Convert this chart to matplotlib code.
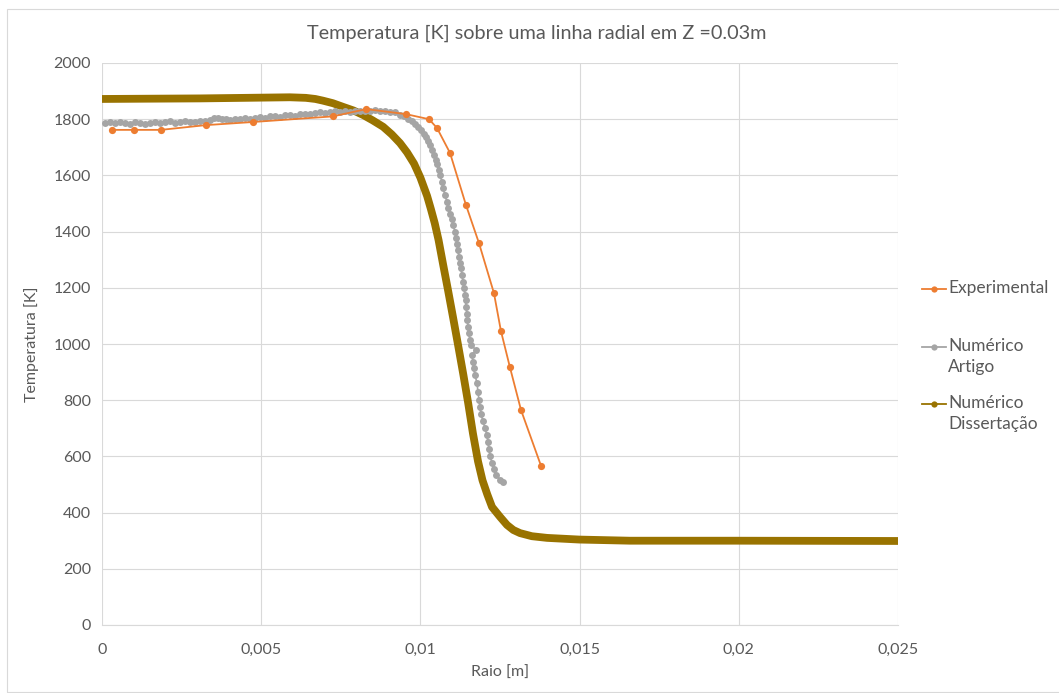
import matplotlib
matplotlib.use("Agg")
import matplotlib.pyplot as plt
from matplotlib.lines import Line2D
from matplotlib.patches import Rectangle
import numpy as np

plt.rcParams['font.family'] = ['Lato', 'DejaVu Sans']

# Experimental measurements: radius [mm], temperature [K]
exp_r_mm = [0.31, 1.00, 1.85, 3.27, 4.74, 7.25, 8.30, 9.55, 10.27, 10.52, 10.93,
            11.43, 11.84, 12.31, 12.53, 12.81, 13.16, 13.79]
exp_T = [1762, 1762, 1762, 1779, 1790, 1810, 1836, 1818, 1800, 1769, 1680,
         1495, 1359, 1181, 1046, 918, 765, 566]

# Numerical results from the reference article: radius [mm], temperature [K]
art_r_mm = [0.094, 0.251, 0.408, 0.565, 0.722, 0.879, 1.036, 1.193, 1.350, 1.508,
            1.665, 1.822, 1.979, 2.136, 2.293, 2.450, 2.607, 2.764, 2.921, 3.078,
            3.235, 3.392, 3.518, 3.643, 3.769, 3.894, 4.020, 4.177, 4.334, 4.491,
            4.648, 4.805, 4.962, 5.119, 5.276, 5.433, 5.591, 5.748, 5.905, 6.062,
            6.219, 6.376, 6.533, 6.690, 6.847, 7.004, 7.161, 7.318, 7.475, 7.632,
            7.789, 7.946, 8.103, 8.260, 8.417, 8.574, 8.731, 8.888, 9.045, 9.202,
            9.359, 9.485, 9.611, 9.736, 9.830, 9.925, 10.019, 10.113, 10.176, 10.239,
            10.301, 10.364, 10.427, 10.490, 10.521, 10.584, 10.616, 10.678, 10.710, 10.773,
            10.836, 10.867, 10.930, 10.992, 11.024, 11.087, 11.118, 11.149, 11.181, 11.212,
            11.244, 11.275, 11.307, 11.338, 11.369, 11.401, 11.417, 11.432, 11.464, 11.479,
            11.495, 11.511, 11.558, 11.589, 11.746, 11.621, 11.652, 11.668, 11.715, 11.778,
            11.809, 11.841, 11.872, 11.903, 11.966, 12.029, 12.092, 12.123, 12.155, 12.186,
            12.249, 12.312, 12.374, 12.500, 12.594]
art_T = [1786, 1790, 1785, 1791, 1787, 1784, 1790, 1786, 1783, 1788,
         1791, 1786, 1789, 1792, 1788, 1790, 1793, 1789, 1791, 1794,
         1792, 1798, 1806, 1803, 1799, 1801, 1798, 1802, 1800, 1803,
         1801, 1806, 1808, 1805, 1810, 1812, 1809, 1814, 1816, 1813,
         1818, 1820, 1817, 1822, 1824, 1821, 1826, 1828, 1825, 1829,
         1827, 1830, 1828, 1830, 1829, 1831, 1828, 1830, 1827, 1824,
         1816, 1810, 1802, 1792, 1782, 1772, 1760, 1748, 1737, 1722,
         1708, 1690, 1672, 1655, 1640, 1620, 1600, 1578, 1555, 1530,
         1505, 1485, 1462, 1445, 1425, 1400, 1378, 1355, 1333, 1310,
         1290, 1270, 1245, 1222, 1200, 1175, 1155, 1130, 1105, 1085,
         1060, 1040, 1015, 995, 980, 960, 935, 915, 890, 860,
         830, 800, 775, 752, 725, 700, 675, 650, 625, 600,
         578, 555, 535, 517, 510]

# Numerical results from the dissertation: radius [mm], temperature [K]
dis_r_mm = [0.0, 1.5, 3.08, 4.5, 5.9, 6.4, 6.7, 6.94, 7.25, 7.57,
            7.9, 8.2, 8.5, 8.83, 9.1, 9.36, 9.58, 9.80, 10.00, 10.21,
            10.33, 10.45, 10.57, 10.71, 10.87, 11.03, 11.19, 11.35, 11.50, 11.65,
            11.81, 11.95, 12.10, 12.25, 12.5, 12.72, 12.92, 13.13, 13.5, 13.98,
            15.0, 16.58, 20.0, 25.0]
dis_T = [1872, 1873, 1874, 1876, 1878, 1876, 1872, 1866, 1857, 1844,
         1831, 1815, 1796, 1773, 1746, 1715, 1682, 1642, 1592, 1527,
         1480, 1430, 1370, 1285, 1190, 1092, 992, 890, 790, 682,
         582, 515, 465, 420, 385, 356, 338, 327, 316, 310,
         304, 300, 300, 299]

x_ticks = [0, 0.005, 0.01, 0.015, 0.02, 0.025]
x_tick_labels = ["0", "0,005", "0,01", "0,015", "0,02", "0,025"]
y_ticks = list(range(0, 2001, 200))

series_labels = ["Experimental", "Numérico\nArtigo", "Numérico\nDissertação"]

c_exp = "#ED7D31"
c_art = "#A5A5A5"
c_dis = "#997300"
c_text = "#595959"
c_grid = "#D9D9D9"

W, H = 1059, 693
fig = plt.figure(figsize=(W / 100, H / 100), dpi=100)
fig.patch.set_facecolor("white")
fig.patches.append(Rectangle((7 / W, 0.002), 1.0, 1 - 9 / H - 0.002,
                             transform=fig.transFigure, fill=False,
                             edgecolor=c_grid, linewidth=0.8, zorder=0))

ax = fig.add_axes([102 / W, 68 / H, 796 / W, 562 / H])

to_m = lambda v: np.asarray(v) / 1000.0

ax.plot(to_m(dis_r_mm), dis_T, color=c_dis, linewidth=5.6, solid_capstyle="round",
        solid_joinstyle="round", zorder=3)
ax.plot(to_m(art_r_mm), art_T, color=c_art, linewidth=1.2, marker="o",
        markersize=5, markeredgewidth=0, zorder=4)
ax.plot(to_m(exp_r_mm), exp_T, color=c_exp, linewidth=1.3, marker="o",
        markersize=5.2, markeredgewidth=0, zorder=5)

ax.set_xlim(0, 0.025)
ax.set_ylim(0, 2000)
ax.set_xticks(x_ticks)
ax.set_xticklabels(x_tick_labels)
ax.set_yticks(y_ticks)
ax.grid(True, color=c_grid, linewidth=0.8)
ax.set_axisbelow(True)
for side in ("top", "right", "left"):
    ax.spines[side].set_visible(False)
ax.spines["bottom"].set_color(c_grid)
ax.spines["bottom"].set_linewidth(0.8)
ax.tick_params(length=0, labelsize=11.5, colors=c_text, pad=8)
ax.tick_params(axis="x", pad=13)

fig.text(537 / W, 1 - 33 / H, "Temperatura [K] sobre uma linha radial em Z =0.03m",
         fontsize=14.3, color=c_text, ha="center", va="center")
ax.set_xlabel("Raio [m]", fontsize=11.5, color=c_text, labelpad=6)
ax.set_ylabel("Temperatura [K]", fontsize=11.5, color=c_text, labelpad=10)

# Legend entries on the right: key line with marker, then the label
legend_colors = [c_exp, c_art, c_dis]
legend_rows = [289, 347, 404]
for color, label, row in zip(legend_colors, series_labels, legend_rows):
    yk = 1 - row / H
    fig.add_artist(Line2D([922 / W, 946 / W], [yk, yk], transform=fig.transFigure,
                          color=color, linewidth=1.3))
    fig.add_artist(Line2D([934 / W], [yk], transform=fig.transFigure, color=color,
                          marker="o", markersize=4.5, markeredgewidth=0))
    fig.text(948 / W, yk + 9 / H, label, fontsize=12.5, color=c_text,
             ha="left", va="top", linespacing=1.4)

fig.savefig("out.png", dpi=100)
